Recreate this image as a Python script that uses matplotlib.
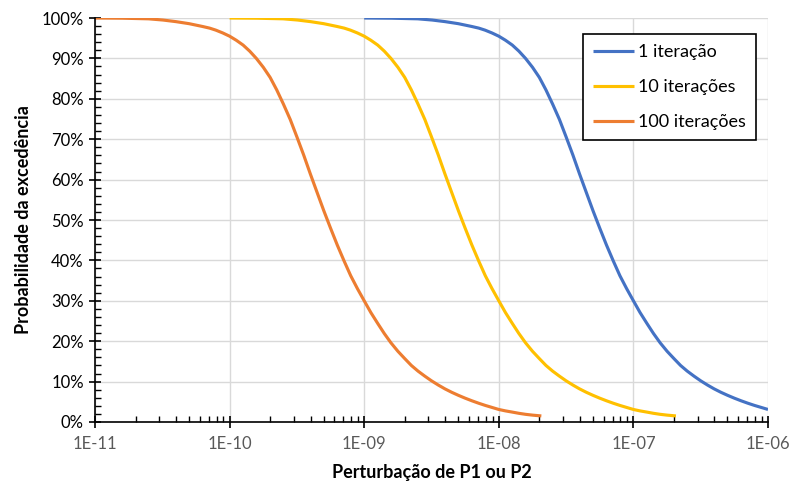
import matplotlib.pyplot as plt
from matplotlib.ticker import FixedLocator, FuncFormatter, LogLocator, MultipleLocator

# perturbation values (log scale) and exceedance probability in %
x_1 = [1.0e-9, 1.6e-9, 2.5e-9, 3.2e-9, 4.0e-9, 5.0e-9, 6.3e-9, 7.1e-9, 7.9e-9, 8.9e-9,
       1.0e-8, 1.12e-8, 1.26e-8, 1.41e-8, 1.58e-8, 1.78e-8, 2.0e-8, 2.24e-8, 2.51e-8, 2.82e-8,
       3.16e-8, 3.55e-8, 3.98e-8, 4.47e-8, 5.01e-8, 5.62e-8, 6.31e-8, 7.08e-8, 7.94e-8, 8.91e-8,
       1.0e-7, 1.12e-7, 1.26e-7, 1.41e-7, 1.58e-7, 1.78e-7, 2.0e-7, 2.24e-7, 2.51e-7, 2.82e-7,
       3.16e-7, 3.55e-7, 3.98e-7, 4.47e-7, 5.01e-7, 5.62e-7, 6.31e-7, 7.08e-7, 7.94e-7, 8.91e-7,
       1.0e-6]
p_1 = [100, 99.95, 99.8, 99.5, 99.1, 98.6, 97.9, 97.5, 97.0, 96.3,
       95.5, 94.5, 93.3, 91.8, 90.0, 87.8, 85.3, 82.2, 78.7, 74.9,
       70.6, 66.1, 61.4, 56.8, 52.3, 48.0, 43.8, 39.9, 36.2, 33.0,
       30.0, 27.1, 24.4, 21.9, 19.6, 17.5, 15.7, 14.0, 12.6, 11.35,
       10.2, 9.15, 8.2, 7.35, 6.6, 5.9, 5.25, 4.65, 4.1, 3.6,
       3.1]

x_10 = [1.0e-10, 1.6e-10, 2.5e-10, 3.2e-10, 4.0e-10, 5.0e-10, 6.3e-10, 7.1e-10, 7.9e-10, 8.9e-10,
        1.0e-9, 1.12e-9, 1.26e-9, 1.41e-9, 1.58e-9, 1.78e-9, 2.0e-9, 2.24e-9, 2.51e-9, 2.82e-9,
        3.16e-9, 3.55e-9, 3.98e-9, 4.47e-9, 5.01e-9, 5.62e-9, 6.31e-9, 7.08e-9, 7.94e-9, 8.91e-9,
        1.0e-8, 1.12e-8, 1.26e-8, 1.41e-8, 1.58e-8, 1.78e-8, 2.0e-8, 2.24e-8, 2.51e-8, 2.82e-8,
        3.16e-8, 3.55e-8, 3.98e-8, 4.47e-8, 5.01e-8, 5.62e-8, 6.31e-8, 7.08e-8, 7.94e-8, 8.91e-8,
        1.0e-7, 1.12e-7, 1.26e-7, 1.41e-7, 1.58e-7, 1.78e-7, 2.07e-7]
p_10 = [100, 99.95, 99.8, 99.5, 99.1, 98.6, 97.9, 97.5, 97.0, 96.3,
        95.5, 94.5, 93.3, 91.8, 90.0, 87.8, 85.3, 82.2, 78.7, 74.9,
        70.6, 66.1, 61.4, 56.8, 52.3, 48.0, 43.8, 39.9, 36.2, 33.0,
        30.0, 27.1, 24.4, 21.9, 19.6, 17.5, 15.7, 14.0, 12.6, 11.35,
        10.2, 9.15, 8.2, 7.35, 6.6, 5.9, 5.25, 4.65, 4.1, 3.6,
        3.1, 2.75, 2.45, 2.15, 1.9, 1.7, 1.5]

x_100 = [1.0e-11, 1.6e-11, 2.5e-11, 3.2e-11, 4.0e-11, 5.0e-11, 6.3e-11, 7.1e-11, 7.9e-11, 8.9e-11,
         1.0e-10, 1.12e-10, 1.26e-10, 1.41e-10, 1.58e-10, 1.78e-10, 2.0e-10, 2.24e-10, 2.51e-10, 2.82e-10,
         3.16e-10, 3.55e-10, 3.98e-10, 4.47e-10, 5.01e-10, 5.62e-10, 6.31e-10, 7.08e-10, 7.94e-10, 8.91e-10,
         1.0e-9, 1.12e-9, 1.26e-9, 1.41e-9, 1.58e-9, 1.78e-9, 2.0e-9, 2.24e-9, 2.51e-9, 2.82e-9,
         3.16e-9, 3.55e-9, 3.98e-9, 4.47e-9, 5.01e-9, 5.62e-9, 6.31e-9, 7.08e-9, 7.94e-9, 8.91e-9,
         1.0e-8, 1.12e-8, 1.26e-8, 1.41e-8, 1.58e-8, 1.78e-8, 2.07e-8]
p_100 = [100, 99.95, 99.8, 99.5, 99.1, 98.6, 97.9, 97.5, 97.0, 96.3,
         95.5, 94.5, 93.3, 91.8, 90.0, 87.8, 85.3, 82.2, 78.7, 74.9,
         70.6, 66.1, 61.4, 56.8, 52.3, 48.0, 43.8, 39.9, 36.2, 33.0,
         30.0, 27.1, 24.4, 21.9, 19.6, 17.5, 15.7, 14.0, 12.6, 11.35,
         10.2, 9.15, 8.2, 7.35, 6.6, 5.9, 5.25, 4.65, 4.1, 3.6,
         3.1, 2.75, 2.45, 2.15, 1.9, 1.7, 1.5]

series = [
    ("1 iteração", x_1, p_1, "#4472C4"),
    ("10 iterações", x_10, p_10, "#FFC000"),
    ("100 iterações", x_100, p_100, "#ED7D31"),
]
x_ticks = [1e-11, 1e-10, 1e-9, 1e-8, 1e-7, 1e-6]
x_tick_labels = ["1E-11", "1E-10", "1E-09", "1E-08", "1E-07", "1E-06"]

plt.rcParams['font.family'] = ['Lato', 'DejaVu Sans']

fig = plt.figure(figsize=(7.89, 4.83), dpi=100)
ax = fig.add_axes([0.1204, 0.1263, 0.8530, 0.8364])

for label, xs, ps, color in series:
    ax.plot(xs, ps, color=color, lw=2.25, label=label,
            solid_capstyle='butt', solid_joinstyle='round')

ax.set_xscale('log')
ax.set_xlim(1e-11, 1e-6)
ax.set_ylim(0, 100)

ax.xaxis.set_major_locator(FixedLocator(x_ticks))
ax.xaxis.set_major_formatter(FuncFormatter(
    lambda v, pos: x_tick_labels[x_ticks.index(v)] if v in x_ticks else ""))
ax.xaxis.set_minor_locator(LogLocator(base=10, subs=range(2, 10), numticks=50))
ax.yaxis.set_major_locator(MultipleLocator(10))
ax.yaxis.set_minor_locator(MultipleLocator(2))
ax.yaxis.set_major_formatter(FuncFormatter(lambda v, pos: f"{v:.0f}%"))

ax.grid(True, which='major', color='#D9D9D9', lw=1.0)
ax.set_axisbelow(True)
for side in ('top', 'right'):
    ax.spines[side].set_visible(False)
for side in ('left', 'bottom'):
    ax.spines[side].set_color('black')
    ax.spines[side].set_linewidth(1.2)

ax.tick_params(axis='both', which='major', direction='inout', length=8, width=1.2)
ax.tick_params(axis='both', which='minor', direction='in', length=4, width=1.0)
ax.tick_params(axis='x', which='major', labelsize=12, labelcolor='#595959', pad=6)
ax.tick_params(axis='y', which='major', labelsize=12, labelcolor='black', pad=4)
ax.tick_params(axis='x', which='minor', labelbottom=False)

ax.set_xlabel("Perturbação de P1 ou P2", fontsize=13, fontweight='bold', labelpad=9)
ax.set_ylabel("Probabilidade da excedência", fontsize=13, fontweight='bold', labelpad=7)

leg = ax.legend(loc='upper right', bbox_to_anchor=(0.958, 0.9296),
                bbox_transform=fig.transFigure, fontsize=13, frameon=True,
                fancybox=False, edgecolor='black', framealpha=1,
                handlelength=2.3, handletextpad=0.2, labelspacing=1.05,
                borderpad=0.55, borderaxespad=0)
leg.get_frame().set_linewidth(1.2)

fig.savefig("out.png", dpi=100)
